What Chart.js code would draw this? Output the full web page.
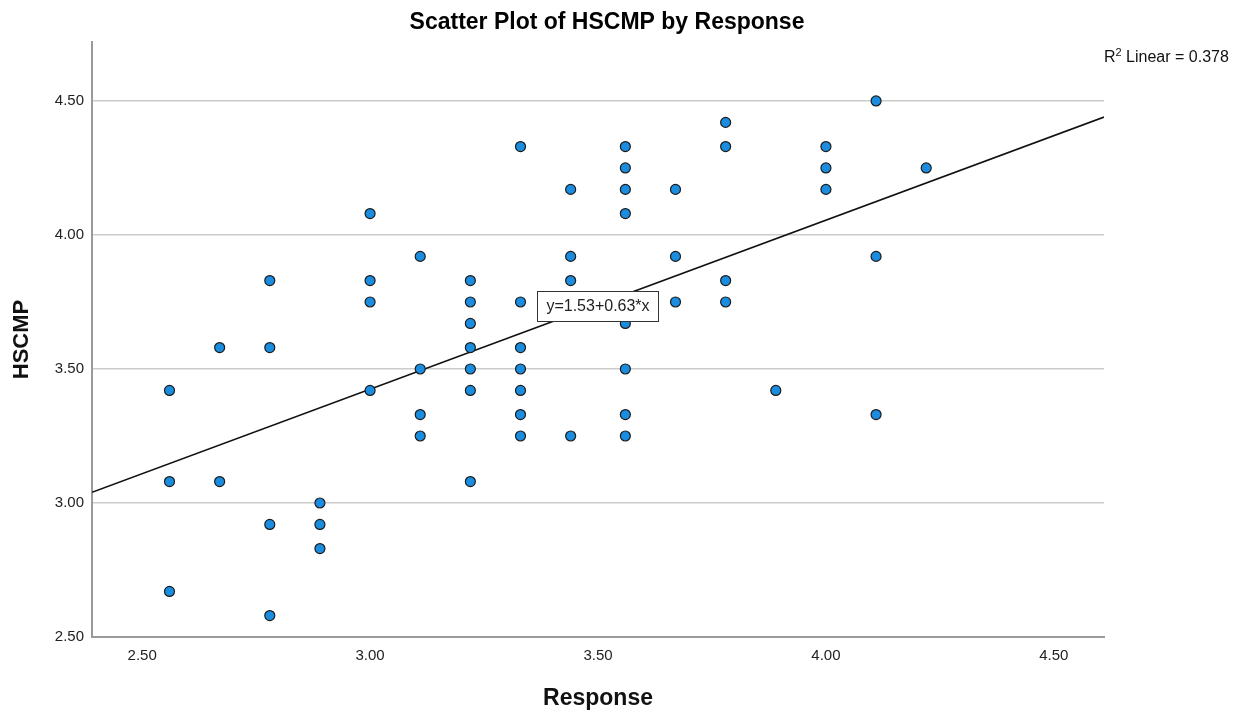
<!DOCTYPE html>
<html><head><meta charset="utf-8">
<script src="https://cdn.jsdelivr.net/npm/chart.js@4.4.1/dist/chart.umd.min.js"></script>
<style>html,body{margin:0;padding:0;background:#fff;} #wrap{width:1242px;height:717px;}</style>
</head><body><div id="wrap"><canvas id="c" width="1242" height="717"></canvas></div>
<script>
// ---- data ----
const chartTitle = 'Scatter Plot of HSCMP by Response';
const xAxisTitle = 'Response';
const yAxisTitle = 'HSCMP';
const responseValues = [
  2.56, 2.56, 2.56,
  2.67, 2.67,
  2.78, 2.78, 2.78, 2.78,
  2.89, 2.89, 2.89,
  3.00, 3.00, 3.00, 3.00,
  3.11, 3.11, 3.11, 3.11,
  3.22, 3.22, 3.22, 3.22, 3.22, 3.22, 3.22,
  3.33, 3.33, 3.33, 3.33, 3.33, 3.33, 3.33,
  3.44, 3.44, 3.44, 3.44,
  3.56, 3.56, 3.56, 3.56, 3.56, 3.56, 3.56, 3.56,
  3.67, 3.67, 3.67,
  3.78, 3.78, 3.78, 3.78,
  3.89,
  4.00, 4.00, 4.00,
  4.11, 4.11, 4.11,
  4.22
];
const hscmpValues = [
  3.42, 3.08, 2.67,
  3.58, 3.08,
  3.83, 3.58, 2.92, 2.58,
  3.00, 2.92, 2.83,
  4.08, 3.83, 3.75, 3.42,
  3.92, 3.50, 3.33, 3.25,
  3.83, 3.75, 3.67, 3.58, 3.50, 3.42, 3.08,
  4.33, 3.75, 3.58, 3.50, 3.42, 3.33, 3.25,
  4.17, 3.92, 3.83, 3.25,
  4.33, 4.25, 4.17, 4.08, 3.67, 3.50, 3.33, 3.25,
  4.17, 3.92, 3.75,
  4.42, 4.33, 3.83, 3.75,
  3.42,
  4.33, 4.25, 4.17,
  4.50, 3.92, 3.33,
  4.25
];
const xTickValues = [2.5, 3.0, 3.5, 4.0, 4.5];
const yTickValues = [2.5, 3.0, 3.5, 4.0, 4.5];
const xRange = [2.39, 4.61];
const yRange = [2.5, 4.72];
const fitLineX = [2.39, 4.61];
const fitLineY = [3.04, 4.44];
const fitEquation = 'y=1.53+0.63*x';
const fitEquationAnchor = [3.5, 3.735];
const rSquaredParts = ['R', '2', ' Linear = 0.378'];

// ---- build ----
const FONT = "'Liberation Sans', Arial, Helvetica, sans-serif";
const points = responseValues.map((x, i) => ({x: x, y: hscmpValues[i]}));
const fitPoints = fitLineX.map((x, i) => ({x: x, y: fitLineY[i]}));

const annotations = {
  id: 'annotations',
  afterDatasetsDraw(chart) {
    const ctx = chart.ctx;
    const xs = chart.scales.x, ys = chart.scales.y;
    const cx = xs.getPixelForValue(fitEquationAnchor[0]);
    const cy = ys.getPixelForValue(fitEquationAnchor[1]);
    ctx.save();
    ctx.font = '16px ' + FONT;
    const tw = ctx.measureText(fitEquation).width;
    const bw = tw + 18, bh = 30;
    ctx.fillStyle = '#ffffff';
    ctx.fillRect(Math.round(cx - bw / 2) + 0.5, Math.round(cy - bh / 2) + 0.5, Math.round(bw), bh);
    ctx.strokeStyle = '#333333';
    ctx.lineWidth = 1;
    ctx.strokeRect(Math.round(cx - bw / 2) + 0.5, Math.round(cy - bh / 2) + 0.5, Math.round(bw), bh);
    ctx.fillStyle = '#222222';
    ctx.textAlign = 'center';
    ctx.textBaseline = 'middle';
    ctx.fillText(fitEquation, cx, cy + 1);
    ctx.restore();
  },
  afterDraw(chart) {
    const ctx = chart.ctx;
    ctx.save();
    ctx.fillStyle = '#000000';
    ctx.font = 'bold 23px ' + FONT;
    ctx.textAlign = 'center';
    ctx.textBaseline = 'alphabetic';
    ctx.fillText(chartTitle, 607, 29);
    let x = chart.chartArea.right;
    const base = 62;
    ctx.textAlign = 'left';
    ctx.fillStyle = '#111111';
    ctx.font = '16px ' + FONT;
    ctx.fillText(rSquaredParts[0], x, base);
    x += ctx.measureText(rSquaredParts[0]).width;
    ctx.font = '11px ' + FONT;
    ctx.fillText(rSquaredParts[1], x, base - 6);
    x += ctx.measureText(rSquaredParts[1]).width;
    ctx.font = '16px ' + FONT;
    ctx.fillText(rSquaredParts[2], x, base);
    ctx.restore();
  }
};

new Chart(document.getElementById('c'), {
  type: 'scatter',
  data: {
    datasets: [
      {
        label: 'HSCMP',
        data: points,
        order: 0,
        pointRadius: 5,
        pointHoverRadius: 5,
        pointBorderWidth: 1.2,
        pointBackgroundColor: '#1a8de0',
        pointBorderColor: '#1c1c1c'
      },
      {
        label: 'Fit',
        data: fitPoints,
        order: 1,
        showLine: true,
        pointRadius: 0,
        borderColor: '#111111',
        borderWidth: 1.6,
        fill: false
      }
    ]
  },
  options: {
    responsive: false,
    devicePixelRatio: 1,
    animation: false,
    events: [],
    layout: {padding: {top: 42, left: 0, right: 138, bottom: 0}},
    plugins: {
      legend: {display: false},
      tooltip: {enabled: false},
      title: {display: false}
    },
    scales: {
      x: {
        type: 'linear',
        min: xRange[0],
        max: xRange[1],
        afterBuildTicks: s => { s.ticks = xTickValues.map(v => ({value: v})); },
        afterFit: s => { s.height = 80; },
        grid: {display: false, drawTicks: false},
        border: {display: true, color: '#9a9a9a', width: 2},
        ticks: {
          padding: 10,
          maxRotation: 0,
          color: '#222222',
          font: {family: FONT, size: 15},
          callback: v => Number(v).toFixed(2)
        },
        title: {
          display: true,
          text: xAxisTitle,
          color: '#111111',
          font: {family: FONT, size: 23, weight: 'bold'},
          padding: {top: 0, bottom: 5}
        }
      },
      y: {
        type: 'linear',
        min: yRange[0],
        max: yRange[1],
        afterBuildTicks: s => { s.ticks = yTickValues.map(v => ({value: v})); },
        afterFit: s => { s.width = 92; },
        grid: {
          drawTicks: false,
          lineWidth: 1.5,
          color: c => (c.tick && c.tick.value === yRange[0]) ? 'rgba(0,0,0,0)' : '#cccccc'
        },
        border: {display: true, color: '#9a9a9a', width: 2},
        ticks: {
          padding: 8,
          color: '#222222',
          font: {family: FONT, size: 15},
          callback: v => Number(v).toFixed(2)
        },
        title: {
          display: true,
          text: yAxisTitle,
          color: '#111111',
          font: {family: FONT, size: 22, weight: 'bold'},
          padding: {top: 9, bottom: 0}
        }
      }
    }
  },
  plugins: [annotations]
});
</script>
</body></html>
